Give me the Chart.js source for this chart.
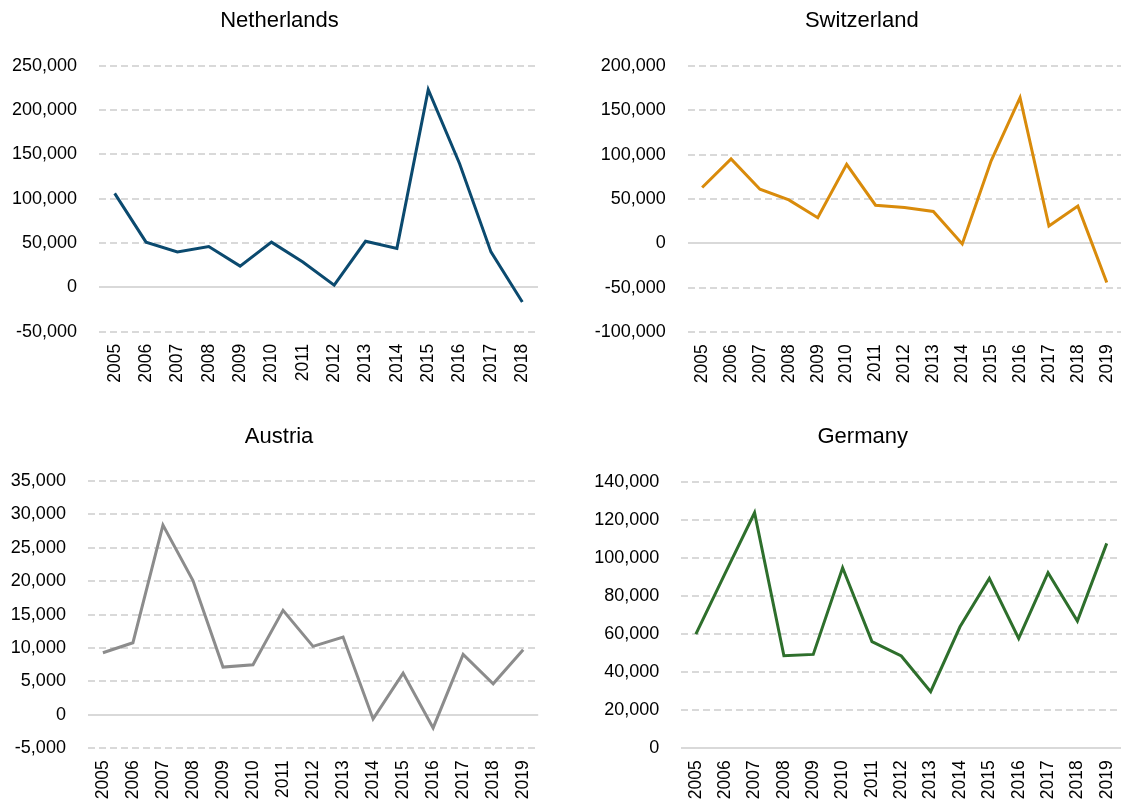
<!DOCTYPE html>
<html>
<head>
<meta charset="utf-8">
<script src="https://cdn.jsdelivr.net/npm/chart.js@4"></script>
<style>
  body { margin: 0; background: #fff; overflow: hidden; }
  .panel { position: absolute; }
</style>
</head>
<body>
<div class="panel" style="left:0;top:0"><canvas id="nl" width="560" height="400"></canvas></div>
<div class="panel" style="left:560px;top:0"><canvas id="ch" width="600" height="400"></canvas></div>
<div class="panel" style="left:0;top:400px"><canvas id="at" width="560" height="403"></canvas></div>
<div class="panel" style="left:560px;top:400px"><canvas id="de" width="600" height="403"></canvas></div>
<script>
// ------------------- Data -------------------
const yearsTo2018 = ["2005","2006","2007","2008","2009","2010","2011","2012","2013","2014","2015","2016","2017","2018"];
const yearsTo2019 = ["2005","2006","2007","2008","2009","2010","2011","2012","2013","2014","2015","2016","2017","2018","2019"];

const netherlandsValues = [106000, 51000, 40000, 46000, 24000, 51000, 28500, 2500, 52000, 44000, 223000, 139500, 40000, -16500];
const switzerlandValues = [63000, 95000, 61000, 49000, 29000, 89000, 43000, 40500, 36000, -500, 93000, 164000, 19500, 42000, -44000];
const austriaValues = [9300, 10800, 28400, 20100, 7150, 7500, 15650, 10250, 11650, -600, 6250, -1950, 9050, 4650, 9750];
const germanyValues = [60000, 92000, 123700, 48600, 49300, 94800, 56000, 48500, 29700, 63800, 89200, 57700, 92200, 66800, 107600];

// y axis: [min, max, step]
const netherlandsTicks = [-50000, 250000, 50000];
const switzerlandTicks = [-100000, 200000, 50000];
const austriaTicks = [-5000, 35000, 5000];
const germanyTicks = [0, 140000, 20000];

const FONT = "'Liberation Sans', Arial, sans-serif";

// panel title drawn on the canvas at a fixed spot (Excel doesn't centre it on the plot)
const panelTitle = {
  id: "panelTitle",
  afterDraw(chart, args, opts) {
    const c = chart.ctx;
    c.save();
    c.font = "22px " + FONT;
    c.fillStyle = "#000";
    c.textAlign = "center";
    c.textBaseline = "middle";
    c.fillText(opts.text, opts.x, opts.y);
    c.restore();
  }
};

// ------------------- Panels -------------------
function makePanel(id, title, labels, values, color, ticks, lay) {
  const ctx = document.getElementById(id).getContext("2d");
  return new Chart(ctx, {
    type: "line",
    data: {
      labels: labels,
      datasets: [{
        data: values,
        borderColor: color,
        borderWidth: 3,
        pointRadius: 0,
        tension: 0,
        fill: false
      }]
    },
    plugins: [panelTitle],
    options: {
      responsive: false,
      animation: false,
      layout: { padding: { left: 0, right: lay.padR, top: lay.top, bottom: 0 } },
      plugins: {
        legend: { display: false },
        tooltip: { enabled: false },
        title: { display: false },
        panelTitle: { text: title, x: lay.tx, y: lay.ty }
      },
      scales: {
        x: {
          offset: true,
          grid: { display: false, drawTicks: false },
          border: { display: false },
          ticks: {
            color: "#000",
            font: { family: FONT, size: 17.5 },
            minRotation: 90,
            maxRotation: 90,
            padding: 12,
            autoSkip: false
          },
          afterFit: s => { s.height = lay.xHeight; }
        },
        y: {
          min: ticks[0],
          max: ticks[1],
          ticks: {
            stepSize: ticks[2],
            color: "#000",
            font: { family: FONT, size: 18 },
            padding: 22,
            callback: v => v.toLocaleString("en-US")
          },
          grid: {
            color: "#d9d9d9",
            lineWidth: 2,
            drawTicks: false
          },
          border: {
            display: false,
            dash: c => (c.tick && c.tick.value === 0) ? [] : [7, 4]
          },
          afterFit: s => { s.width = lay.yWidth; }
        }
      }
    }
  });
}

makePanel("nl", "Netherlands", yearsTo2018, netherlandsValues, "#0b4a6f", netherlandsTicks,
  { padR: 22, yWidth: 99, top: 65.7, xHeight: 68.3, tx: 279.5, ty: 20.7 });
makePanel("ch", "Switzerland", yearsTo2019, switzerlandValues, "#d98b0b", switzerlandTicks,
  { padR: 38.8, yWidth: 127.7, top: 65.7, xHeight: 67.7, tx: 301.8, ty: 20.7 });
makePanel("at", "Austria", yearsTo2019, austriaValues, "#8c8c8c", austriaTicks,
  { padR: 21.8, yWidth: 87.9, top: 81, xHeight: 54.7, tx: 279.1, ty: 36.7 });
makePanel("de", "Germany", yearsTo2019, germanyValues, "#2e6f2c", germanyTicks,
  { padR: 38.6, yWidth: 121.2, top: 81.7, xHeight: 54.7, tx: 302.7, ty: 36.7 });
</script>
</body>
</html>
